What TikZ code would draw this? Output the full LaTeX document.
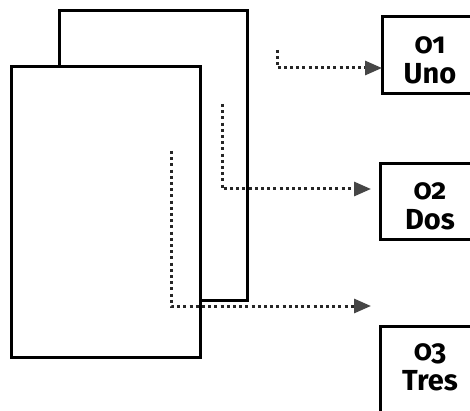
\documentclass[tikz,border=0pt]{standalone}
\usepackage{fontspec}
\setmainfont{Fira Sans}[Numbers=OldStyle]
\usetikzlibrary{arrows.meta}
\begin{document}
\begin{tikzpicture}[x=1pt,y=-1pt,
  page/.style={draw=black,line width=3pt,fill=white,rectangle,inner sep=0pt},
  tab/.style={draw=black,line width=3pt,fill=white,rectangle,inner sep=0pt},
  lbl/.style={align=center,font=\fontsize{29}{30}\selectfont\bfseries,inner sep=0pt},
  dotline/.style={draw=gray!30!black,line width=3pt,dash pattern=on 3pt off 3.2pt,
    -{Triangle[length=17pt,width=14pt,color=gray!55!black,fill=gray!55!black]}}]
\useasboundingbox (0,0) rectangle (470,411);
\clip (0,0) rectangle (470,411);
% pages
\node[page,minimum width=188pt,minimum height=289pt] (back) at (153,155.5) {};
\node[page,minimum width=189pt,minimum height=290pt] (front) at (105.5,212) {};
% boxes
\node[tab,minimum width=100pt,minimum height=77pt] (b1) at (432,55.5) {};
\node[tab,minimum width=100pt,minimum height=75pt] (b2) at (430,201.5) {};
\node[tab,minimum width=100pt,minimum height=104pt] (b3) at (430,378) {};
\node[lbl] (t1) at (430,60) {01\\Uno};
\node[lbl] (t2) at (430,206.5) {02\\Dos};
\node[lbl] (t3) at (430,367.5) {03\\Tres};
% connectors
\coordinate (s1) at (277,50);
\coordinate (e1) at (382,68);
\coordinate (s2) at (222,104);
\coordinate (e2) at (371,189);
\coordinate (s3) at (171,151);
\coordinate (e3) at (371,306);
\draw[dotline] (s1) |- (e1);
\draw[dotline] (s2) |- (e2);
\draw[dotline] (s3) |- (e3);
\end{tikzpicture}
\end{document}
